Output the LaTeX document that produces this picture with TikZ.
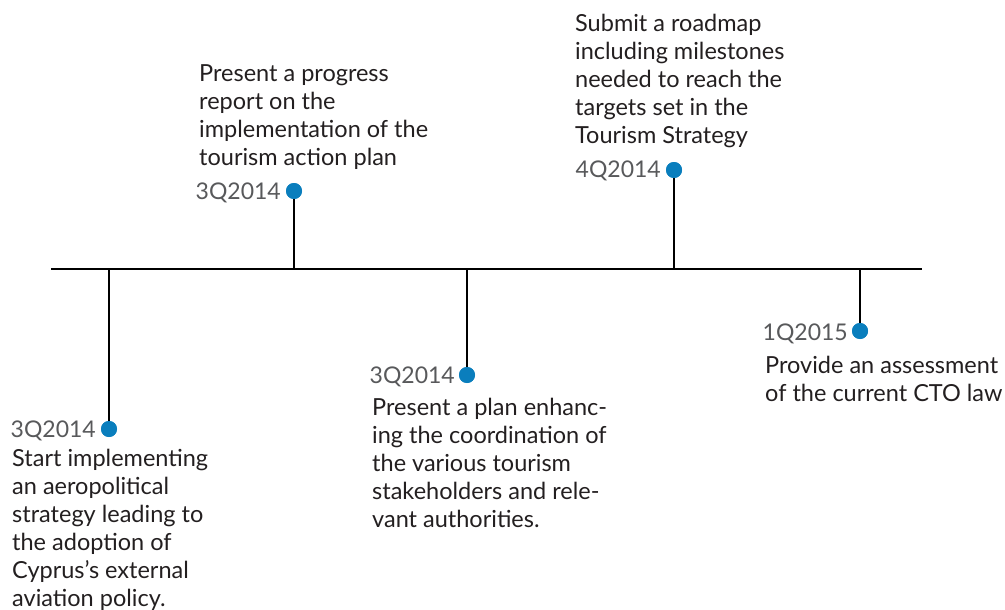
\documentclass[tikz,border=0pt]{standalone}
\usepackage{fontspec}
\setmainfont{Lato}
\definecolor{txt}{HTML}{231F20}
\definecolor{datec}{HTML}{58595B}
\definecolor{dotc}{HTML}{0A7EBD}
\begin{document}
\begin{tikzpicture}[x=1pt,y=-1pt,
  line/.style={line width=2pt,color=black},
  dotn/.style={circle,fill=dotc,inner sep=0pt,minimum size=16pt},
  datet/.style={anchor=base east,inner sep=0pt,text=datec,font=\fontsize{23}{28}\selectfont},
  desc/.style={anchor=base west,inner sep=0pt,align=left,text=txt,font=\fontsize{23.5}{28}\selectfont}]
\useasboundingbox (0,0) rectangle (1005,610);
% timeline
\coordinate (tl0) at (51,269);
\coordinate (tl1) at (922,269);
\draw[line] (tl0) -- (tl1);
% base points
\coordinate (b1) at (109,269);
\coordinate (b2) at (294,269);
\coordinate (b3) at (467,269);
\coordinate (b4) at (674,269);
\coordinate (b5) at (860,269);
% dots
\node[dotn] (d1) at (109,429) {};
\node[dotn] (d2) at (294,191) {};
\node[dotn] (d3) at (467,375) {};
\node[dotn] (d4) at (674,170) {};
\node[dotn] (d5) at (860,331) {};
\draw[line] (b1) -- (d1.center);
\draw[line] (b2) -- (d2.center);
\draw[line] (b3) -- (d3.center);
\draw[line] (b4) -- (d4.center);
\draw[line] (b5) -- (d5.center);
\foreach \i in {1,...,5}{\node[dotn] at (d\i) {};}
% dates
\node[datet] (q1) at (96,437) {3Q2014};
\node[datet] (q2) at (281,199) {3Q2014};
\node[datet] (q3) at (455,383) {3Q2014};
\node[datet] (q4) at (661,177) {4Q2014};
\node[datet] (q5) at (848,340) {1Q2015};
% descriptions (anchored at the baseline of the last line)
\node[desc] (t1) at (12,606) {Start implementing\\an aeropolitical\\strategy leading to\\the adoption of\\Cyprus’s external\\aviation policy.};
\node[desc] (t2) at (199,165) {Present a progress\\report on the\\implementation of the\\tourism action plan};
\node[desc] (t3) at (372,527) {Present a plan enhanc-\\ing the coordination of\\the various tourism\\stakeholders and rele-\\vant authorities.};
\node[desc] (t4) at (575,143) {Submit a roadmap\\including milestones\\needed to reach the\\targets set in the\\Tourism Strategy};
\node[desc] (t5) at (765,401) {Provide an assessment\\of the current CTO law};
\end{tikzpicture}
\end{document}
